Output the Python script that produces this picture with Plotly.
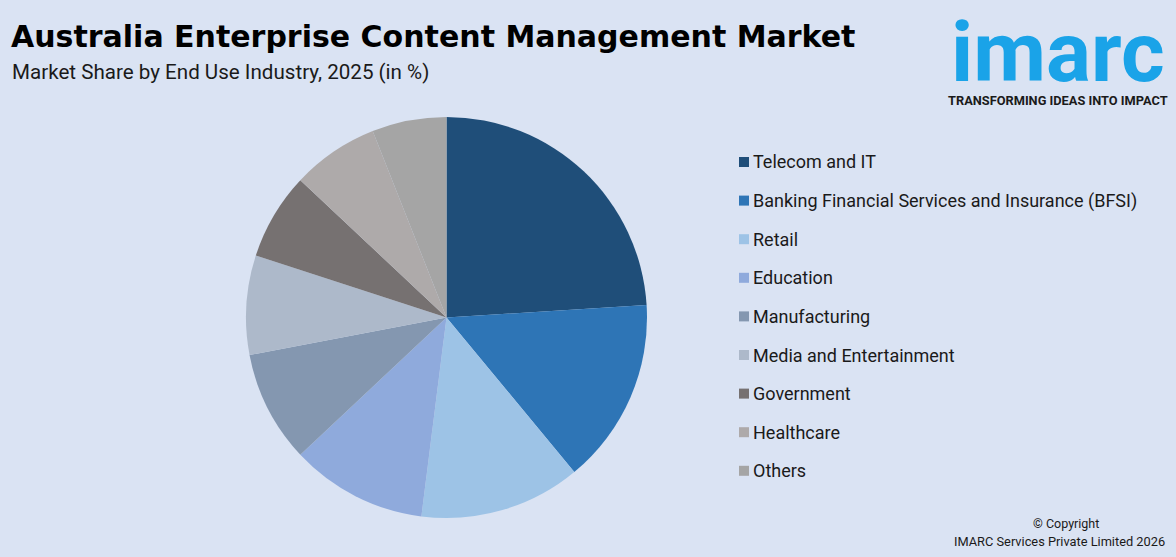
import plotly.graph_objects as go

categories = ["Telecom and IT", "Banking Financial Services and Insurance (BFSI)", "Retail",
              "Education", "Manufacturing", "Media and Entertainment", "Government",
              "Healthcare", "Others"]
shares = [24, 15, 13, 11, 9, 8, 7, 7, 6]
colors = ["#1f4e79", "#2e75b6", "#9dc3e6", "#8faadc", "#8497b0", "#adb9ca",
          "#767171", "#aeaaaa", "#a5a5a5"]

W, H = 1176, 557
BG = "#dae3f3"
FONT = "Roboto"

fig = go.Figure()
fig.add_trace(go.Pie(
    labels=categories, values=shares, sort=False, direction="clockwise", rotation=0,
    marker=dict(colors=colors, line=dict(width=0)), textinfo="none", hoverinfo="label+percent",
    domain=dict(x=[246 / W, 647 / W], y=[1 - 518 / H, 1 - 117 / H]), showlegend=False,
))

shapes = []
annotations = []
# custom legend
y0, step = 162, 38.6
for i, (cat, col) in enumerate(zip(categories, colors)):
    yc = y0 + i * step
    shapes.append(dict(type="rect", xref="paper", yref="paper",
                       x0=739 / W, x1=749 / W, y0=1 - (yc + 5) / H, y1=1 - (yc - 5) / H,
                       fillcolor=col, line=dict(width=0)))
    annotations.append(dict(text=cat, xref="paper", yref="paper", x=751 / W, y=1 - yc / H,
                            xanchor="left", yanchor="middle", showarrow=False,
                            font=dict(family=FONT, size=18, color="#1a1a1a")))

# titles
annotations.append(dict(text="<b>Australia Enterprise Content Management Market</b>",
                        xref="paper", yref="paper", x=9 / W, y=1 - 36 / H,
                        xanchor="left", yanchor="middle", showarrow=False,
                        font=dict(family="DejaVu Sans", size=30, color="#000000")))
annotations.append(dict(text="Market Share by End Use Industry, 2025 (in %)",
                        xref="paper", yref="paper", x=10 / W, y=1 - 72 / H,
                        xanchor="left", yanchor="middle", showarrow=False,
                        font=dict(family=FONT, size=20.6, color="#1a1a1a")))
# logo
annotations.append(dict(text="<b>imarc</b>", xref="paper", yref="paper", x=1058 / W, y=1 - 53 / H,
                        xanchor="center", yanchor="middle", showarrow=False,
                        font=dict(family=FONT, size=84, color="#1aa3e8")))
annotations.append(dict(text="<b>TRANSFORMING IDEAS INTO IMPACT</b>", xref="paper", yref="paper",
                        x=1058 / W, y=1 - 100 / H, xanchor="center", yanchor="middle",
                        showarrow=False, font=dict(family=FONT, size=12.8, color="#1a1a1a")))
# copyright
annotations.append(dict(text="© Copyright", xref="paper", yref="paper", x=1066 / W, y=1 - 523 / H,
                        xanchor="center", yanchor="middle", showarrow=False,
                        font=dict(family=FONT, size=12.5, color="#1a1a1a")))
annotations.append(dict(text="IMARC Services Private Limited 2026", xref="paper", yref="paper",
                        x=1059 / W, y=1 - 541 / H, xanchor="center", yanchor="middle",
                        showarrow=False, font=dict(family=FONT, size=12.8, color="#1a1a1a")))

fig.update_layout(width=W, height=H, margin=dict(l=0, r=0, t=0, b=0),
                  paper_bgcolor=BG, plot_bgcolor=BG, shapes=shapes, annotations=annotations,
                  showlegend=False)
fig.write_html("out.html")
